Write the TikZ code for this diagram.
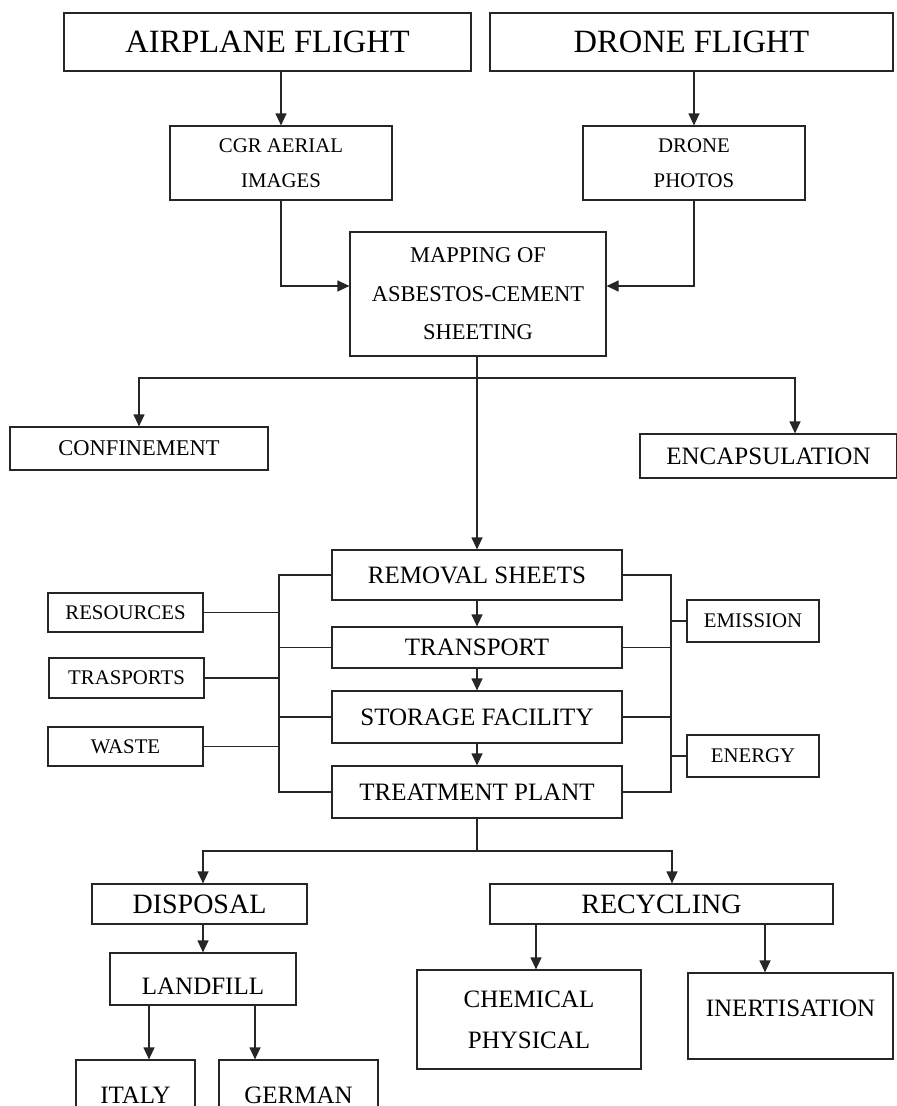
\documentclass[tikz,border=0pt]{standalone}
\usepackage{fontspec}
\setmainfont{Liberation Serif}
\usetikzlibrary{arrows.meta,positioning}

\begin{document}
\begin{tikzpicture}[x=1pt, y=-1pt, line width=1.2pt,
  >={Triangle[length=12pt,width=11pt]},
  box/.style={draw=black!85, rectangle, inner sep=0pt, align=center, text=black},
  huge text/.style={font=\fontsize{32.5}{38}\selectfont},
  large text/.style={font=\fontsize{28}{34}\selectfont},
  big text/.style={font=\fontsize{25}{41}\selectfont},
  mid text/.style={font=\fontsize{22.5}{38.5}\selectfont},
  small text/.style={font=\fontsize{20.8}{35}\selectfont},
  link/.style={draw=black!85, ->},
  wire/.style={draw=black!85}]

  \useasboundingbox (0,0) rectangle (897,1106);

  % ==========================================
  % SECTION 1 : VOLS ET IMAGES
  % ==========================================
  \node[box, huge text, minimum width=407pt, minimum height=58pt] (airplane) at (267.5,42) {AIRPLANE FLIGHT};
  \node[box, huge text, minimum width=403pt, minimum height=58pt] (drone) at (691.5,42) {DRONE FLIGHT};

  \node[box, small text, minimum width=222pt, minimum height=74pt] (cgr) at (281,163) {CGR AERIAL\\IMAGES};
  \node[box, small text, minimum width=222pt, minimum height=74pt] (photos) at (694,163) {DRONE\\PHOTOS};

  % Cartographie
  \node[box, mid text, minimum width=256pt, minimum height=124pt] (mapping) at (478,294) {MAPPING OF\\ASBESTOS-CEMENT\\SHEETING};

  \draw[link] (cgr.north |- airplane.south) -- (cgr.north);
  \draw[link] (photos.north |- drone.south) -- (photos.north);
  \draw[link] (cgr.south) |- ([yshift=8pt]mapping.west);
  \draw[link] (photos.south) |- ([yshift=8pt]mapping.east);

  % ==========================================
  % SECTION 2 : CONFINEMENT / ENCAPSULATION
  % ==========================================
  \node[box, mid text, minimum width=258pt, minimum height=43pt] (confinement) at (139,448.5) {CONFINEMENT};
  \node[box, big text, minimum width=257pt, minimum height=44pt] (encaps) at (768.5,456) {ENCAPSULATION};

  % ==========================================
  % SECTION 3 : CHAINE DE TRAITEMENT
  % ==========================================
  \node[box, big text, minimum width=290pt, minimum height=50pt] (removal) at (477,575) {REMOVAL SHEETS};
  \node[box, big text, minimum width=290pt, minimum height=41pt] (transport) at (477,647.5) {TRANSPORT};
  \node[box, big text, minimum width=290pt, minimum height=52pt] (storage) at (477,717) {STORAGE FACILITY};
  \node[box, big text, minimum width=290pt, minimum height=52pt] (treatment) at (477,792) {TREATMENT PLANT};

  \coordinate (split) at (477,378);
  \draw[wire] (mapping.south -| split) -- (split);
  \draw[link] (split) -| (confinement.north);
  \draw[link] (split) -| ([xshift=26.5pt]encaps.north);
  \draw[link] (split) -- (removal.north);

  \draw[link] (removal) -- (transport);
  \draw[link] (transport) -- (storage);
  \draw[link] (storage) -- (treatment);

  % Entrees (a gauche) et sorties (a droite)
  \node[box, small text, minimum width=155pt, minimum height=39pt] (resources) at (125.5,612.5) {RESOURCES};
  \node[box, small text, minimum width=155pt, minimum height=40pt] (trasports) at (126.5,678) {TRASPORTS};
  \node[box, small text, minimum width=155pt, minimum height=39pt] (waste) at (125.5,746.5) {WASTE};
  \node[box, small text, minimum width=132pt, minimum height=42pt] (emission) at (753,621) {EMISSION};
  \node[box, small text, minimum width=132pt, minimum height=42pt] (energy) at (753,756) {ENERGY};

  \coordinate (lbus) at (279,0);
  \coordinate (rbus) at (671,0);
  \draw[wire] (removal.west) -| (lbus |- treatment.west) -- (treatment.west);
  \draw[wire] (transport.west) -- (transport.west -| lbus);
  \draw[wire] (storage.west) -- (storage.west -| lbus);
  \draw[wire] (resources.east) -- (resources.east -| lbus);
  \draw[wire] (trasports.east) -- (trasports.east -| lbus);
  \draw[wire] (waste.east) -- (waste.east -| lbus);

  \draw[wire] (removal.east) -| (rbus |- treatment.east) -- (treatment.east);
  \draw[wire] (transport.east) -- (transport.east -| rbus);
  \draw[wire] (storage.east) -- (storage.east -| rbus);
  \draw[wire] (emission.west) -- (emission.west -| rbus);
  \draw[wire] (energy.west) -- (energy.west -| rbus);

  % ==========================================
  % SECTION 4 : ELIMINATION / RECYCLAGE
  % ==========================================
  \node[box, large text, minimum width=215pt, minimum height=40pt] (disposal) at (199.5,904) {DISPOSAL};
  \node[box, large text, minimum width=343pt, minimum height=40pt] (recycling) at (661.5,904) {RECYCLING};
  \node[box, big text, minimum width=186pt, minimum height=52pt, text height=31pt] (landfill) at (203,979) {LANDFILL};

  \node[box, big text, minimum width=119pt, minimum height=70pt] (italy) at (135.5,1095) {ITALY};
  \node[box, big text, minimum width=159pt, minimum height=70pt] (german) at (298.5,1095) {GERMAN};

  \node[box, big text, minimum width=224pt, minimum height=99pt] (chemical) at (529,1019.5) {CHEMICAL\\PHYSICAL};
  \node[box, big text, minimum width=205pt, minimum height=86pt, text depth=15pt] (inertisation) at (790.5,1016) {INERTISATION};

  \coordinate (fork) at (477,851);
  \draw[wire] (treatment.south) -- (fork);
  \draw[link] (fork) -| (landfill.north |- disposal.north);
  \draw[link] (fork) -| ([xshift=10.5pt]recycling.north);
  \draw[link] (landfill.north |- disposal.south) -- (landfill.north);

  \draw[link] ([xshift=13.5pt]italy.north |- landfill.south) -- ([xshift=13.5pt]italy.north);
  \draw[link] ([xshift=-43.5pt]german.north |- landfill.south) -- ([xshift=-43.5pt]german.north);
  \draw[link] ([xshift=7pt]chemical.north |- recycling.south) -- ([xshift=7pt]chemical.north);
  \draw[link] ([xshift=-25.5pt]inertisation.north |- recycling.south) -- ([xshift=-25.5pt]inertisation.north);

\end{tikzpicture}
\end{document}
